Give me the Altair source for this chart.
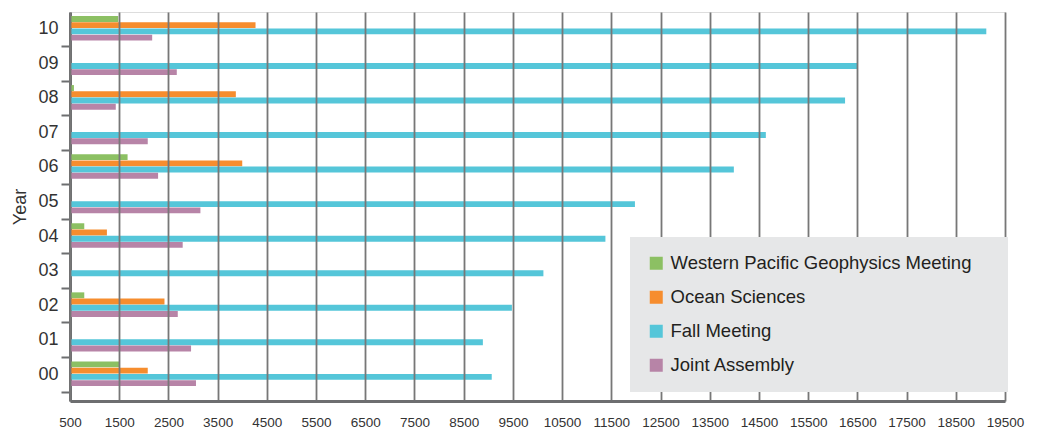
import altair as alt
import pandas as pd

# ---- data ----
years = ["00", "01", "02", "03", "04", "05", "06", "07", "08", "09", "10"]
series_names = ["Western Pacific Geophysics Meeting", "Ocean Sciences", "Fall Meeting", "Joint Assembly"]
series_colors = ["#8cc063", "#f68d2e", "#55c6d9", "#b784a7"]

wpgm = [1500, None, 790, None, 790, None, 1670, None, 580, None, 1480]
ocean = [2080, None, 2420, None, 1250, None, 4000, None, 3870, None, 4270]
fall = [9070, 8890, 9480, 10120, 11380, 11980, 13990, 14640, 16250, 16500, 19120]
joint = [3060, 2960, 2690, None, 2790, 3150, 2290, 2080, 1430, 2670, 2170]

x_ticks = [500, 1500, 2500, 3500, 4500, 5500, 6500, 7500, 8500, 9500, 10500,
           11500, 12500, 13500, 14500, 15500, 16500, 17500, 18500, 19500]

rows = []
for name, vals in zip(series_names, [wpgm, ocean, fall, joint]):
    for y, v in zip(years, vals):
        if v is not None:
            rows.append({"Year": y, "Meeting": name, "Attendance": v})
df = pd.DataFrame(rows)

FONT = "Liberation Sans"
AXIS_GRAY = "#6d6e70"

chart = alt.Chart(df).mark_bar().encode(
    y=alt.Y(
        "Year:N",
        sort=years[::-1],
        scale=alt.Scale(paddingInner=0, paddingOuter=0.13, align=0),
        axis=alt.Axis(
            title="Year", bandPosition=1, domainColor=AXIS_GRAY, domainWidth=3,
            tickColor=AXIS_GRAY, tickWidth=2, tickSize=9, labelFontSize=18,
            labelPadding=3, labelColor="#333333", labelFont=FONT,
            titleFont=FONT, titleFontSize=18, titleFontWeight="normal",
            titleColor="#333333", titlePadding=8, grid=False,
        ),
    ),
    yOffset=alt.YOffset(
        "Meeting:N", sort=series_names,
        scale=alt.Scale(paddingInner=0.05, paddingOuter=0.8, align=0.4),
    ),
    x=alt.X(
        "Attendance:Q",
        scale=alt.Scale(domain=[500, 19500], nice=False, zero=False),
        axis=alt.Axis(
            values=x_ticks, format="d", title=None, grid=True, gridColor="#777777",
            gridWidth=1.8, ticks=False, domainColor=AXIS_GRAY, domainWidth=3,
            labelFontSize=13.5, labelPadding=14, labelColor="#333333", labelFont=FONT,
            labelFlush=False, zindex=1,
        ),
    ),
    x2=alt.datum(500),
    color=alt.Color(
        "Meeting:N", sort=series_names,
        scale=alt.Scale(domain=series_names, range=series_colors),
        legend=alt.Legend(
            orient="none", legendX=560, legendY=225, fillColor="#e6e7e8",
            padding=17, symbolType="square", symbolSize=169, symbolStrokeWidth=0,
            labelFontSize=18.5, labelFont=FONT, labelColor="#231f20", labelOffset=5,
            rowPadding=15, title=" ", titleOrient="right", titleFontSize=1,
            titlePadding=20, labelLimit=400, zindex=2,
        ),
    ),
).properties(
    width=935,
    height=389,
    autosize=alt.AutoSizeParams(type="none"),
    padding={"left": 70, "top": 12, "right": 33, "bottom": 34},
).configure_view(stroke=None).configure(background="white")

chart.save("out.html", embed_options={"renderer": "svg", "actions": False})
